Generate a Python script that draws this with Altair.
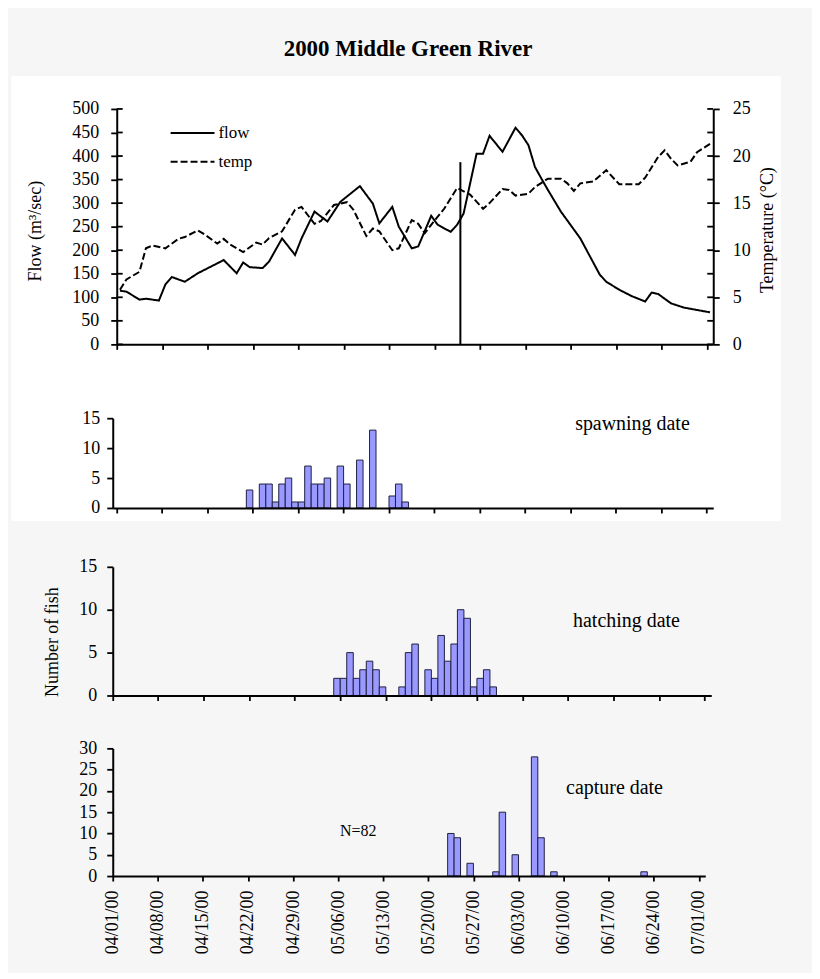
import json
import altair as alt
import pandas as pd

FONT = "Liberation Serif"
BG = "#f6f6f6"
BAR_FILL = "#9999ff"
BAR_STROKE = "#202040"
BASE = "2000-04-01"
TITLE = "2000 Middle Green River"

# ---------------- data ----------------
flow_dates = ["2000-04-01", "2000-04-02", "2000-04-04", "2000-04-05", "2000-04-07", "2000-04-08",
              "2000-04-09", "2000-04-11", "2000-04-13", "2000-04-14", "2000-04-17", "2000-04-19",
              "2000-04-20", "2000-04-21", "2000-04-23", "2000-04-24", "2000-04-26", "2000-04-28",
              "2000-04-29", "2000-05-01", "2000-05-03", "2000-05-05", "2000-05-08", "2000-05-10",
              "2000-05-11", "2000-05-13", "2000-05-14", "2000-05-16", "2000-05-17", "2000-05-19",
              "2000-05-20", "2000-05-22", "2000-05-23", "2000-05-24", "2000-05-26", "2000-05-27",
              "2000-05-28", "2000-05-30", "2000-06-01", "2000-06-02", "2000-06-03", "2000-06-04",
              "2000-06-05", "2000-06-06", "2000-06-08", "2000-06-11", "2000-06-14", "2000-06-15",
              "2000-06-17", "2000-06-19", "2000-06-21", "2000-06-22", "2000-06-23", "2000-06-25",
              "2000-06-27", "2000-06-29", "2000-07-01"]
flow_values = [114, 112, 95, 97, 93, 127,
               143, 133, 151, 158, 179, 151,
               174, 164, 162, 176, 225, 190,
               225, 282, 261, 303, 336, 299,
               257, 292, 250, 204, 208, 273,
               254, 239, 254, 278, 405, 405,
               443, 409, 460, 444, 423, 377,
               352, 328, 282, 225, 148, 133,
               116, 102, 91, 110, 107, 87,
               78, 73, 68]

temp_dates = ["2000-04-01", "2000-04-02", "2000-04-04", "2000-04-05", "2000-04-06", "2000-04-08",
              "2000-04-10", "2000-04-11", "2000-04-13", "2000-04-14", "2000-04-16", "2000-04-17",
              "2000-04-18", "2000-04-20", "2000-04-22", "2000-04-23", "2000-04-24", "2000-04-26",
              "2000-04-28", "2000-04-29", "2000-05-01", "2000-05-02", "2000-05-04", "2000-05-06",
              "2000-05-07", "2000-05-09", "2000-05-10", "2000-05-11", "2000-05-13", "2000-05-14",
              "2000-05-16", "2000-05-17", "2000-05-18", "2000-05-19", "2000-05-21", "2000-05-23",
              "2000-05-25", "2000-05-27", "2000-05-28", "2000-05-30", "2000-05-31", "2000-06-01",
              "2000-06-03", "2000-06-04", "2000-06-06", "2000-06-08", "2000-06-09", "2000-06-10",
              "2000-06-11", "2000-06-13", "2000-06-15", "2000-06-17", "2000-06-20", "2000-06-21",
              "2000-06-23", "2000-06-24", "2000-06-25", "2000-06-26", "2000-06-28", "2000-06-29",
              "2000-07-01"]
temp_values = [5.8, 6.9, 7.7, 10.2, 10.5, 10.2,
               11.2, 11.4, 12.1, 11.7, 10.7, 11.2,
               10.6, 9.8, 10.8, 10.6, 11.3, 12.0,
               14.3, 14.6, 12.8, 13.1, 14.8, 15.1,
               14.3, 11.5, 12.3, 12.0, 10.0, 10.2,
               13.2, 12.8, 11.8, 12.7, 14.4, 16.6,
               15.9, 14.4, 15.0, 16.5, 16.4, 15.8,
               16.0, 16.7, 17.6, 17.6, 17.1, 16.3,
               17.1, 17.3, 18.5, 17.0, 17.0, 17.7,
               19.9, 20.6, 19.7, 19.0, 19.4, 20.4,
               21.3]

marker_date = "2000-05-24"
marker_top = 387

spawn_dates = ["2000-04-21", "2000-04-23", "2000-04-24", "2000-04-25", "2000-04-26", "2000-04-27",
               "2000-04-28", "2000-04-29", "2000-04-30", "2000-05-01", "2000-05-02", "2000-05-03",
               "2000-05-05", "2000-05-06", "2000-05-08", "2000-05-10", "2000-05-13", "2000-05-14",
               "2000-05-15"]
spawn_counts = [3, 4, 4, 1, 4, 5, 1, 1, 7, 4, 4, 5, 7, 4, 8, 13, 2, 4, 1]

hatch_dates = ["2000-05-05", "2000-05-06", "2000-05-07", "2000-05-08", "2000-05-09", "2000-05-10",
               "2000-05-11", "2000-05-12", "2000-05-15", "2000-05-16", "2000-05-17", "2000-05-19",
               "2000-05-20", "2000-05-21", "2000-05-22", "2000-05-23", "2000-05-24", "2000-05-25",
               "2000-05-26", "2000-05-27", "2000-05-28", "2000-05-29"]
hatch_counts = [2, 2, 5, 2, 3, 4, 3, 1, 1, 5, 6, 3, 2, 7, 4, 6, 10, 9, 1, 2, 3, 1]

capture_dates = ["2000-05-23", "2000-05-24", "2000-05-26", "2000-05-30", "2000-05-31", "2000-06-02",
                 "2000-06-05", "2000-06-06", "2000-06-08", "2000-06-22"]
capture_counts = [10, 9, 3, 1, 15, 5, 28, 9, 1, 1]

tick_labels = ["04/01/00", "04/08/00", "04/15/00", "04/22/00", "04/29/00", "05/06/00", "05/13/00",
               "05/20/00", "05/27/00", "06/03/00", "06/10/00", "06/17/00", "06/24/00", "07/01/00"]
flow_ticks = [0, 50, 100, 150, 200, 250, 300, 350, 400, 450, 500]
temp_ticks = [0, 5, 10, 15, 20, 25]
count15_ticks = [0, 5, 10, 15]
count30_ticks = [0, 5, 10, 15, 20, 25, 30]


# ---------------- helpers ----------------
def day_of(dates):
    base = pd.Timestamp(BASE)
    return [(pd.Timestamp(d) - base).days for d in dates]


tick_days = [(pd.to_datetime(t, format="%m/%d/%y") - pd.Timestamp(BASE)).days for t in tick_labels]
label_expr = f"{json.dumps(tick_labels)}[indexof({json.dumps(tick_days)}, datum.value)]"

ONE = pd.DataFrame({"k": [0]})
W = 598


def x_axis_plain():
    return alt.Axis(values=tick_days, labels=False, tickSize=5, title=None, grid=False, zindex=1)


def bars(dates, counts, ymax, yticks, xrange, xdomain, y_axis_extra):
    df = pd.DataFrame({"start": day_of(dates), "count": counts})
    df["end"] = df["start"] + 1
    return alt.Chart(df).mark_rect(fill=BAR_FILL, stroke=BAR_STROKE, strokeWidth=1).encode(
        x=alt.X("start:Q", scale=alt.Scale(domain=xdomain, range=xrange), axis=x_axis_plain()),
        x2="end:Q",
        y=alt.Y("count:Q", scale=alt.Scale(domain=[0, ymax]),
                axis=alt.Axis(values=yticks, tickSize=6, grid=False, offset=4, zindex=1,
                              **y_axis_extra)),
        y2=alt.datum(0),
    )


def note(text, x, y, size=20):
    return alt.Chart(ONE).mark_text(text=text, font=FONT, fontSize=size, color="black",
                                    align="center", baseline="middle").encode(
        x=alt.value(x), y=alt.value(y))


def spacer(h):
    return alt.Chart(ONE).mark_rect(opacity=0).encode(
        x=alt.value(0), x2=alt.value(1), y=alt.value(0), y2=alt.value(1)
    ).properties(width=1, height=h)


# ---------------- top panel: flow & temperature ----------------
flow_df = pd.DataFrame({"x": [d + 0.5 for d in day_of(flow_dates)], "value": flow_values, "series": "flow"})
temp_df = pd.DataFrame({"x": [d + 0.5 for d in day_of(temp_dates)], "value": temp_values, "series": "temp"})
marker_df = pd.DataFrame({"x": day_of([marker_date]), "value": [0], "value2": [marker_top]})
fticks_df = pd.DataFrame({"value": flow_ticks})

dash_scale = alt.Scale(domain=["flow", "temp"], range=[[1, 0], [7, 3]])
legend = alt.Legend(orient="none", legendX=53, legendY=16, title=None, symbolType="stroke",
                    symbolSize=1936, symbolStrokeWidth=2, symbolStrokeColor="black",
                    clipHeight=16, rowPadding=12, labelFont=FONT, labelFontSize=17,
                    labelColor="black", labelOffset=3, padding=0, direction="vertical")
x_top = alt.Scale(domain=[0, 92])
flow_scale = alt.Scale(domain=[0, 500])


def flow_axis():
    return alt.Axis(values=flow_ticks, title="Flow (m³/sec)", titleX=-81, titleY=122,
                    titleAngle=270, titleAlign="center", titleBaseline="middle",
                    labelPadding=12, tickSize=6, grid=False, zindex=1)


bg_rect = alt.Chart(ONE).mark_rect(fill=BG).encode(
    x=alt.value(-108), x2=alt.value(696), y=alt.value(-99), y2=alt.value(864))
white_rect = alt.Chart(ONE).mark_rect(fill="white").encode(
    x=alt.value(-105.5), x2=alt.value(666), y=alt.value(-33), y2=alt.value(413))
title_text = alt.Chart(ONE).mark_text(text=TITLE, font=FONT, fontSize=23, fontWeight="bold",
                                      color="black", align="center", baseline="middle").encode(
    x=alt.value(292), y=alt.value(-60))

flow_line = alt.Chart(flow_df).mark_line(color="black", strokeWidth=2).encode(
    x=alt.X("x:Q", scale=x_top, axis=x_axis_plain()),
    y=alt.Y("value:Q", scale=flow_scale, axis=flow_axis()),
    strokeDash=alt.StrokeDash("series:N", scale=dash_scale, legend=legend),
)
marker_rule = alt.Chart(marker_df).mark_rule(color="black", strokeWidth=2).encode(
    x=alt.X("x:Q", scale=x_top, axis=x_axis_plain()),
    y=alt.Y("value:Q", scale=flow_scale, axis=flow_axis()),
    y2="value2:Q",
)
tick_in_left = alt.Chart(fticks_df).mark_rule(color="black", strokeWidth=1.8).encode(
    y=alt.Y("value:Q", scale=flow_scale, axis=flow_axis()), x=alt.value(0), x2=alt.value(6))
tick_in_right = alt.Chart(fticks_df).mark_rule(color="black", strokeWidth=1.8).encode(
    y=alt.Y("value:Q", scale=flow_scale, axis=flow_axis()), x=alt.value(W - 6), x2=alt.value(W))

flow_group = alt.layer(marker_rule, tick_in_left, tick_in_right, flow_line)

temp_line = alt.Chart(temp_df).mark_line(color="black", strokeWidth=2).encode(
    x=alt.X("x:Q", scale=x_top, axis=x_axis_plain()),
    y=alt.Y("value:Q", scale=alt.Scale(domain=[0, 25]),
            axis=alt.Axis(values=temp_ticks, orient="right", title="Temperature (°C)",
                          titleX=54, titleY=121, titleAngle=270, titleAlign="center",
                          titleBaseline="middle", labelPadding=13, tickSize=6, grid=False,
                          zindex=1)),
    strokeDash=alt.StrokeDash("series:N", scale=dash_scale, legend=legend),
)

top = alt.layer(bg_rect, white_rect, title_text, flow_group, temp_line).resolve_scale(
    y="independent").properties(width=W, height=236)

# ---------------- spawning ----------------
spawn = alt.layer(
    bars(spawn_dates, spawn_counts, 15, count15_ticks, [-4, W], [-0.6, 92],
         {"title": None, "labelPadding": 7}),
    note("spawning date", 517, 6),
).properties(width=W, height=90)

# ---------------- hatching ----------------
hatch = alt.layer(
    bars(hatch_dates, hatch_counts, 15, count15_ticks, [-4.3, 596], [0, 92],
         {"title": "Number of fish", "titleX": -60.5, "titleY": 75, "titleAngle": 270,
          "titleAlign": "center", "titleBaseline": "middle", "labelPadding": 10}),
    note("hatching date", 511, 54),
).properties(width=596, height=129)

# ---------------- capture ----------------
cap_df = pd.DataFrame({"start": day_of(capture_dates), "count": capture_counts})
cap_df["end"] = cap_df["start"] + 1
cap_bars = alt.Chart(cap_df).mark_rect(fill=BAR_FILL, stroke=BAR_STROKE, strokeWidth=1).encode(
    x=alt.X("start:Q", scale=alt.Scale(domain=[0, 92], range=[-4, 590]),
            axis=alt.Axis(values=tick_days, labelExpr=label_expr, labelAngle=270, tickSize=5,
                          labelPadding=9, title=None, grid=False, zindex=1)),
    x2="end:Q",
    y=alt.Y("count:Q", scale=alt.Scale(domain=[0, 30]),
            axis=alt.Axis(values=count30_ticks, title=None, tickSize=6, grid=False, offset=4,
                          labelPadding=10, zindex=1)),
    y2=alt.datum(0),
)
capture = alt.layer(
    cap_bars,
    note("capture date", 499, 40),
    note("N=82", 242, 83, size=16),
).properties(width=590, height=128)

chart = alt.vconcat(
    top, spacer(74), spawn, spacer(59), hatch, spacer(53), capture,
    spacing=0, bounds="flush",
).properties(padding=0).configure(background=BG).configure_view(
    stroke="transparent"
).configure_axis(
    labelFont=FONT, labelFontSize=18, labelColor="black",
    titleFont=FONT, titleFontSize=18, titleFontWeight="normal", titleColor="black",
    domainColor="black", domainWidth=2, tickColor="black", tickWidth=1.8, grid=False,
)

chart.save("out.html", embed_options={"renderer": "svg", "actions": False})
